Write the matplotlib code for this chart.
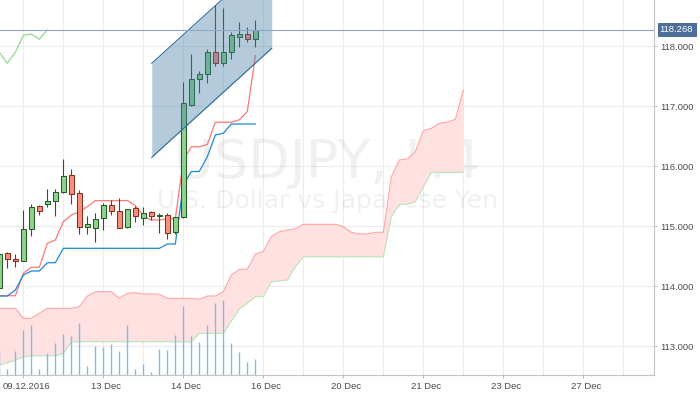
import numpy as np
import matplotlib
matplotlib.use('Agg')
import matplotlib.pyplot as plt
from matplotlib import transforms as mtrans
from matplotlib.patches import Rectangle
from matplotlib.ticker import FormatStrFormatter

plt.rcParams['font.family'] = ['Liberation Sans', 'DejaVu Sans']

# ---------------- data (USDJPY, H4) ----------------
opens = np.array([113.967, 114.545, 114.450, 114.417, 114.945, 115.328, 115.362, 115.422, 115.562, 115.850,
                  115.545, 114.978, 114.962, 115.128, 115.345, 115.255, 114.978, 115.295, 115.138, 115.228,
                  115.175, 115.188, 114.895, 115.145, 117.017, 117.445, 117.528, 117.895, 117.712, 117.905,
                  118.145, 118.200, 118.112])
highs = np.array([114.560, 114.572, 114.528, 115.267, 115.367, 115.350, 115.612, 115.612, 116.112, 115.945,
                  115.600, 115.167, 115.212, 115.378, 115.433, 115.462, 115.285, 115.333, 115.322, 115.255,
                  115.212, 115.212, 115.150, 117.405, 117.867, 117.588, 117.945, 118.683, 118.628, 118.238,
                  118.395, 118.312, 118.433])
lows = np.array([113.930, 114.295, 114.322, 114.410, 114.838, 115.188, 115.322, 115.162, 115.545, 115.362,
                 114.862, 114.872, 114.738, 114.933, 115.183, 114.967, 114.975, 115.072, 115.017, 115.100,
                 114.878, 114.778, 114.862, 115.128, 117.000, 117.212, 117.378, 117.672, 117.672, 117.783,
                 117.978, 118.072, 117.988])
closes = np.array([114.533, 114.450, 114.417, 114.945, 115.312, 115.245, 115.412, 115.562, 115.833, 115.528,
                   114.978, 115.028, 115.122, 115.345, 115.245, 114.967, 115.278, 115.167, 115.212, 115.167,
                   115.185, 114.878, 115.145, 117.045, 117.445, 117.528, 117.895, 117.712, 117.895, 118.178,
                   118.200, 118.112, 118.268])
volume = np.array([2500, 670, 2400, 4500, 5000, 600, 2270, 3270, 4100, 3930,
                   5270, 900, 2900, 2830, 3100, 2400, 5000, 670, 1100, 300,
                   2600, 2500, 4000, 6930, 3900, 3300, 5000, 7270, 7500, 3230,
                   2300, 1330, 1600])

# Ichimoku lines
tenkan = np.array([113.838, 113.838, 113.838, 114.212, 114.312, 114.312, 114.712, 114.767, 115.072, 115.183,
                   115.238, 115.322, 115.422, 115.422, 115.422, 115.422, 115.425, 115.340, 115.170, 115.100,
                   115.100, 115.120, 115.120, 116.090, 116.320, 116.320, 116.360, 116.730, 116.730, 116.730,
                   116.770, 116.910, 117.840])
kijun = np.array([113.833, 113.833, 113.933, 114.183, 114.250, 114.250, 114.388, 114.388, 114.628, 114.628,
                  114.628, 114.628, 114.628, 114.628, 114.628, 114.628, 114.628, 114.628, 114.628, 114.628,
                  114.628, 114.700, 114.700, 115.683, 115.908, 115.908, 116.155, 116.517, 116.545, 116.700,
                  116.700, 116.700, 116.700])
lagging_start = -1
lagging = np.array([117.528, 117.895, 117.712, 117.895, 118.178, 118.200, 118.112, 118.268])
span_a = np.array([113.628, 113.628, 113.628, 113.462, 113.462, 113.545, 113.628, 113.628, 113.628, 113.628,
                   113.655, 113.833, 113.905, 113.905, 113.905, 113.795, 113.878, 113.888, 113.867, 113.867,
                   113.862, 113.795, 113.795, 113.795, 113.795, 113.778, 113.833, 113.833, 113.905, 114.183,
                   114.278, 114.278, 114.533, 114.572, 114.822, 114.905, 114.933, 114.955, 115.028, 115.028,
                   115.028, 115.028, 115.028, 114.988, 114.895, 114.867, 114.867, 114.895, 114.895, 115.822,
                   116.100, 116.117, 116.238, 116.588, 116.628, 116.712, 116.733, 116.778, 117.267])
span_b = np.array([112.683, 112.722, 112.767, 112.822, 112.838, 112.838, 112.838, 112.838, 112.878, 113.072,
                   113.072, 113.072, 113.072, 113.072, 113.072, 113.072, 113.072, 113.072, 113.072, 113.072,
                   113.072, 113.072, 113.072, 113.072, 113.072, 113.212, 113.212, 113.212, 113.212, 113.417,
                   113.617, 113.717, 113.822, 113.822, 114.072, 114.083, 114.100, 114.322, 114.488, 114.488,
                   114.488, 114.488, 114.488, 114.488, 114.488, 114.488, 114.488, 114.488, 114.488, 115.155,
                   115.362, 115.362, 115.405, 115.655, 115.895, 115.895, 115.895, 115.895, 115.895])

# drawn channel (bar index, price)
channel_x = [19.05, 34.05]
channel_upper = [117.712, 119.523]
channel_lower = [116.145, 117.962]

# axis labels
price_ticks = [113, 114, 115, 116, 117, 118]
date_tick_idx = [3, 13, 23, 33, 43, 53, 63, 73]
date_labels = ['09.12.2016', '13 Dec', '14 Dec', '16 Dec', '20 Dec', '21 Dec', '23 Dec', '27 Dec']
title_text = 'USDJPY, H4'
subtitle_text = 'U.S. Dollar vs Japanese Yen'

# ---------------- figure ----------------
W, H = 700, 394
fig = plt.figure(figsize=(W / 100, H / 100), dpi=100)
fig.patch.set_facecolor('white')
ax = fig.add_axes([0, (H - 375.3) / H, 654.3 / W, 375.3 / H])
ax.set_facecolor('white')
ax.set_axisbelow(True)

ax.set_xlim(0.0833, 81.87)
ax.set_ylim(112.5117, 118.7667)

# grid
ax.set_xticks(date_tick_idx)
ax.set_xticks(np.arange(8, 80, 10), minor=True)
ax.grid(True, which='both', axis='x', color='#ececec', lw=0.8)
ax.grid(True, which='major', axis='y', color='#ececec', lw=0.8)

# watermark
ax.text(0.5, 0.5257, title_text, transform=ax.transAxes, ha='center', va='baseline',
        fontsize=39, family='DejaVu Sans', color=(0, 0, 0, 0.06), zorder=0.6)
ax.text(0.5, 0.445, subtitle_text, transform=ax.transAxes, ha='center', va='baseline',
        fontsize=18, family='DejaVu Sans', color=(0, 0, 0, 0.06), zorder=0.6)

# cloud
cx = np.arange(len(span_a))
ax.fill_between(cx, span_a, span_b, color='#ffe1e1', lw=0, zorder=1)
ax.plot(cx, span_a, color='#ffa3a3', lw=0.8, zorder=1.2)
ax.plot(cx, span_b, color='#b9e6b9', lw=0.8, zorder=1.2)

idx = np.arange(len(closes))
ax.plot(idx, tenkan, color='#ff7676', lw=0.9, zorder=2)
ax.plot(idx, kijun, color='#1d88d2', lw=0.9, zorder=2)
ax.plot(np.arange(len(lagging)) + lagging_start, lagging, color='#86d686', lw=0.8, zorder=2)

# candles
up = closes >= opens
dn = ~up
body_bottom = np.minimum(opens, closes)
body_h = np.maximum(np.abs(closes - opens), 0.006)
g_fill, g_edge = '#8fd28f', '#245c24'
r_fill, r_edge = '#f5907e', '#8c2d1e'
ax.vlines(idx[up], lows[up], highs[up], color=g_edge, lw=0.8, zorder=3)
ax.vlines(idx[dn], lows[dn], highs[dn], color=r_edge, lw=0.8, zorder=3)
ax.bar(idx[up], body_h[up], bottom=body_bottom[up], width=0.55, color=g_fill,
       edgecolor=g_edge, linewidth=0.75, zorder=3.1)
ax.bar(idx[dn], body_h[dn], bottom=body_bottom[dn], width=0.55, color=r_fill,
       edgecolor=r_edge, linewidth=0.75, zorder=3.1)

# channel
ax.fill_between(channel_x, channel_lower, channel_upper, color='#467fa6', alpha=0.4, lw=0, zorder=4)
ax.plot(channel_x, channel_upper, color='#2c6e9e', lw=0.8, zorder=4.1)
ax.plot(channel_x, channel_lower, color='#2c6e9e', lw=0.8, zorder=4.1)

# last price line
last = closes[-1]
ax.axhline(last, color='#8ba7c9', lw=0.8, zorder=5)

# volume
ax2 = ax.twinx()
ax2.vlines(idx, 0, volume, colors='#7dbde9', lw=1.0)
ax2.set_ylim(0, 37530)
ax2.set_xlim(ax.get_xlim())
ax2.axis('off')

# axes styling
for s in ('left', 'top'):
    ax.spines[s].set_visible(False)
for s in ('right', 'bottom'):
    ax.spines[s].set_color('#c4c4c4')
    ax.spines[s].set_linewidth(0.8)

ax.yaxis.tick_right()
ax.set_yticks(price_ticks)
ax.yaxis.set_major_formatter(FormatStrFormatter('%.3f'))
ax.tick_params(axis='y', which='major', length=2.2, width=0.7, color='#b8b8b8', pad=2.2,
               labelsize=6.8, labelcolor='#4a4a4a')
ax.set_xticklabels(date_labels)
ax.tick_params(axis='x', which='major', length=2.2, width=0.7, color='#b8b8b8', pad=2.6,
               labelsize=6.8, labelcolor='#4a4a4a')
ax.tick_params(axis='x', which='minor', length=0)
off = mtrans.ScaledTranslation(0.03, 0, fig.dpi_scale_trans)
for lbl in ax.get_xticklabels():
    lbl.set_transform(lbl.get_transform() + off)

# last price label
trans = mtrans.blended_transform_factory(fig.transFigure, ax.transData)
fig.add_artist(Rectangle((657.7 / W, last - 0.1117), 39.6 / W, 0.2233, transform=trans,
                         facecolor='#4e6f99', edgecolor='none', clip_on=False, zorder=10))
fig.text(676.5 / W, last, f'{last:.3f}', transform=trans, ha='center', va='center',
         fontsize=6.8, color='white', zorder=11)

fig.savefig('out.png', dpi=100)
